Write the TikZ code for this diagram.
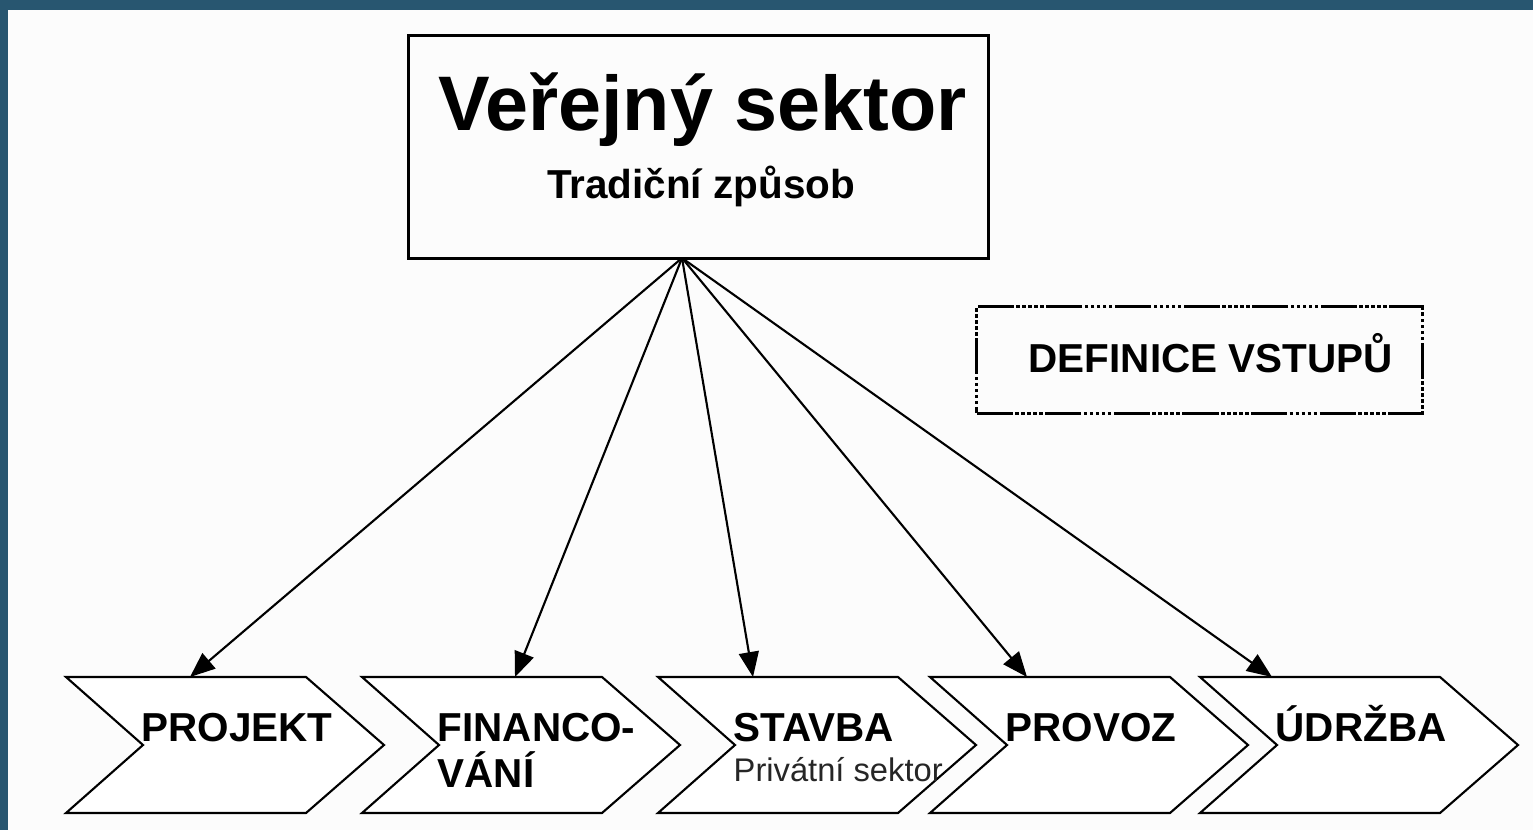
\documentclass[tikz,border=0pt]{standalone}
\usepackage{fontspec}
\setmainfont{Liberation Sans}
\usetikzlibrary{arrows.meta}
\definecolor{slideblue}{HTML}{285670}

\begin{document}
\begin{tikzpicture}[x = 0.01cm, y = -0.01cm,
    box/.style = {draw, line width = 0.85pt, inner sep = 0pt},
    dashdots/.style = {draw, line width = 0.85pt, inner sep = 0pt,
        dash pattern = on 0.36cm off 0.025cm on 0.035cm off 0.025cm on 0.035cm off 0.025cm
            on 0.035cm off 0.025cm on 0.035cm off 0.025cm on 0.035cm off 0.025cm},
    chevron/.style = {draw, line width = 0.6pt, fill = white, line join = miter},
    label/.style = {anchor = base west, inner sep = 0pt, align = left,
        font = \fontsize{11.5}{13}\selectfont\bfseries},
    pointer/.style = {-{Triangle[length = 0.25cm, width = 0.2cm]}, line width = 0.6pt}]
    \useasboundingbox (0,0) rectangle (1533,830);
    \fill[slideblue] (0,0) rectangle (1533,830);
    \fill[white!99!black] (8,10) rectangle (1533,830);
    % top box
    \node[box, minimum width = 5.79cm, minimum height = 2.22cm] (verejny) at (698.5,147) {};
    \node[anchor = base, inner sep = 0pt, font = \fontsize{22}{26}\selectfont\bfseries]
        (nazev) at (702.5,130) {Veřejný sektor};
    \node[anchor = base, inner sep = 0pt, font = \fontsize{11.5}{13}\selectfont\bfseries]
        (zpusob) at (701,198) {Tradiční způsob};
    \coordinate (hub) at (682,258);
    % definice
    \node[dashdots, minimum width = 4.45cm, minimum height = 1.06cm] (definice) at (1199.5,360) {};
    \node[label] (vstupy) at (1028,372) {DEFINICE VSTUPŮ};
    % chevrons
    \foreach \L/\t/\b/\n/\txt in {66/124/741/projekt/PROJEKT, 362/153/787/financovani/{FINANCO-\\VÁNÍ},
        658/95/741/stavba/STAVBA, 930/97/741/provoz/PROVOZ, 1200/72/741/udrzba/ÚDRŽBA} {
        \draw[chevron] (\L,677) -- ++(240,0) -- ++(78,68) -- ++(-78,68) -- ++(-240,0)
            -- ++(77,-68) -- cycle;
        \coordinate (\n-top) at (\L+\t,677);
        \node[label] (\n) at (\L+75,\b) {\txt};
        \draw[pointer] (hub) -- (\n-top);
    }
    \node[anchor = base west, inner sep = 0pt, font = \fontsize{9.3}{11}\selectfont,
        text = black!85] (privatni) at (733,781) {Privátní sektor};
\end{tikzpicture}
\end{document}
